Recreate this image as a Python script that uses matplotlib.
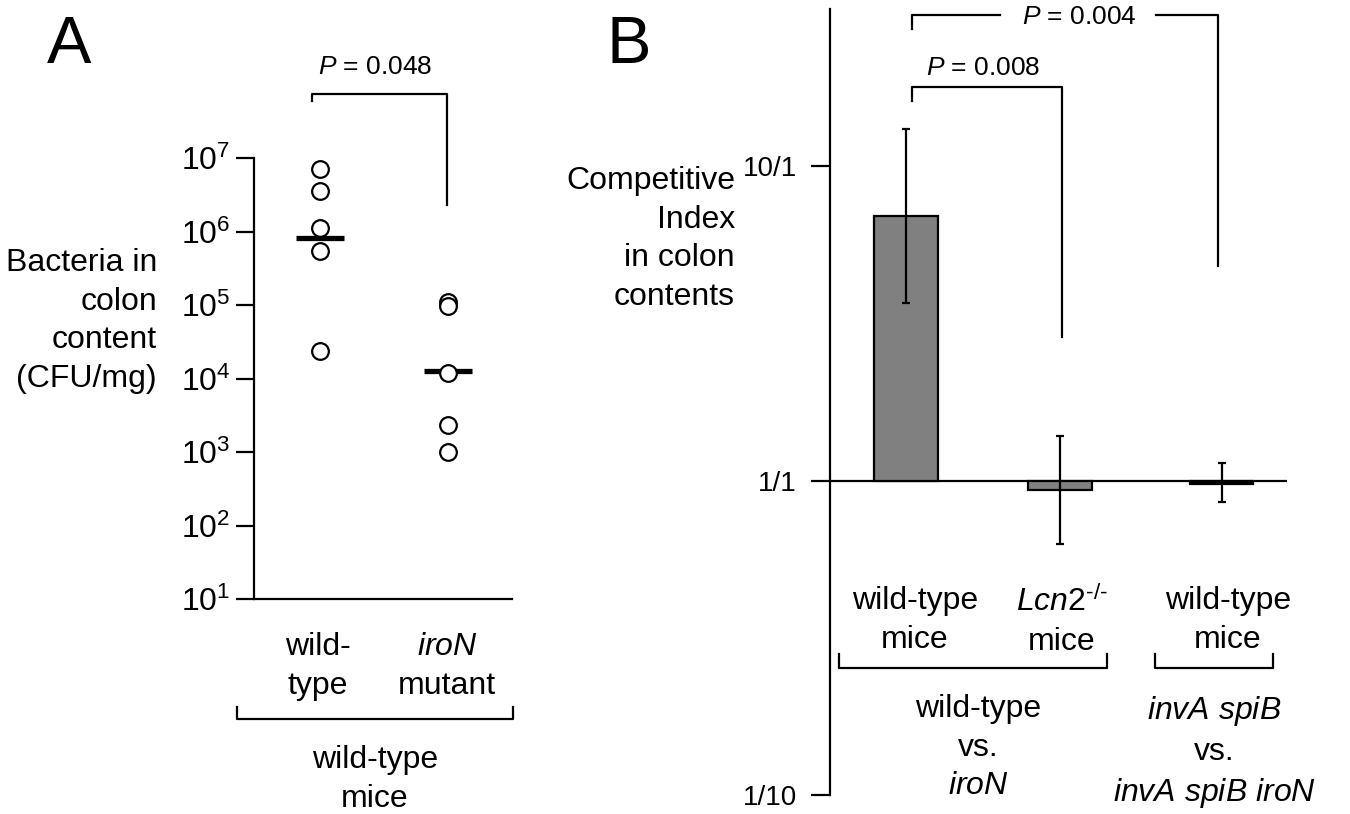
"""
    Colon colonisation (A) and competitive index (B)
    of wild-type vs iroN Salmonella.
"""
import numpy as np
import matplotlib.pyplot as plt
from matplotlib.lines import Line2D

plt.rcParams['font.family'] = 'Liberation Sans'
plt.rcParams['mathtext.fontset'] = 'custom'
plt.rcParams['mathtext.rm'] = 'Liberation Sans'
plt.rcParams['mathtext.it'] = 'Liberation Sans:italic'
plt.rcParams['mathtext.bf'] = 'Liberation Sans:bold'

# ---- panel A data (CFU/mg)
wt_cfu = [7.1e6, 3.6e6, 1.1e6, 5.5e5, 2.4e4]
iron_cfu = [1.1e5, 9.7e4, 1.2e4, 2.3e3, 1.0e3]
median_cfu = [8.1e5, 1.25e4]
groups_a = ['wild-\ntype', '$\\mathit{iroN}$\nmutant']
yticks_a = [1e1, 1e2, 1e3, 1e4, 1e5, 1e6, 1e7]
yticklabels_a = ['$10^{%d}$' % i for i in range(1, 8)]

# ---- panel B data (competitive index)
ci_mean = [6.95, 0.934, 0.975]
ci_upper = [13.1, 1.39, 1.14]
ci_lower = [3.67, 0.63, 0.853]
groups_b = ['wild-type\nmice', '$\\mathit{Lcn2}^{\\text{-/-}}$\nmice',
            'wild-type\nmice']
yticks_b = [0.1, 1, 10]
yticklabels_b = ['1/10', '1/1', '10/1']

W, H = 1350, 814
LW = 1.6
FS = 23
LS = 1.37


def fx(x):
    return x / W


def fy(y):
    return 1 - y / H


def fline(xs, ys):
    # helper: line in pixel coords of the figure
    fig.add_artist(Line2D([fx(x) for x in xs], [fy(y) for y in ys],
                          transform=fig.transFigure, color='k', lw=LW))


fig = plt.figure(figsize=(W / 100, H / 100), dpi=100)

# ================= panel A
axA = fig.add_axes([fx(254), fy(599), (512 - 254) / W, (599 - 158) / H])
xa = [0, 1]
axA.hlines(median_cfu, [x - 0.19 for x in xa], [x + 0.19 for x in xa],
           color='k', lw=3.8, zorder=2)
for x, vals in zip(xa, [wt_cfu, iron_cfu]):
    axA.plot([x] * len(vals), vals, 'o', ms=12, mfc='white', mec='k',
             mew=LW, zorder=3, clip_on=False)
axA.set_yscale('log')
axA.set_ylim(1e1, 1e7)
axA.set_xlim(-0.516, 1.5)
axA.set_yticks(yticks_a)
axA.set_yticklabels(yticklabels_a)
axA.yaxis.set_minor_locator(plt.NullLocator())
axA.set_xticks([])
axA.tick_params(axis='y', length=13, width=LW, labelsize=23, pad=4)
for s in ['top', 'right']:
    axA.spines[s].set_visible(False)
for s in ['left', 'bottom']:
    axA.spines[s].set_linewidth(LW)

fig.text(fx(47), fy(46), 'A', fontsize=48, ha='left', va='center')
fig.text(fx(157), fy(248), 'Bacteria in\ncolon\ncontent\n(CFU/mg)',
         ha='right', va='top', fontsize=FS, linespacing=LS)

# category labels under A
for x, lab in zip([318, 447], groups_a):
    fig.text(fx(x), fy(632), lab, ha='center', va='top', fontsize=FS,
             linespacing=LS)
fline([237, 237, 513, 513], [707, 719, 719, 707])
fig.text(fx(375), fy(745), 'wild-type\nmice', ha='center', va='top',
         fontsize=FS, linespacing=LS)

# significance bracket A
fline([312, 312, 447, 447], [101, 94, 94, 205])
fig.text(fx(375), fy(67), '$\\mathit{P}$ = 0.048', ha='center',
         va='center', fontsize=19)

# ================= panel B
axB = fig.add_axes([fx(830), fy(795), (1287 - 830) / W, (795 - 9) / H])
xb = [0.0, 1.0, 2.05]
axB.axhline(1, color='k', lw=LW, zorder=1)
bar_fc = ['#808080', '#808080', 'k']
axB.bar(xb, [m - 1 for m in ci_mean], bottom=1, width=0.41,
        color=bar_fc, edgecolor='k', linewidth=LW, zorder=2)
err = [np.array(ci_mean) - np.array(ci_lower),
       np.array(ci_upper) - np.array(ci_mean)]
axB.errorbar(xb, ci_mean, yerr=err, fmt='none', ecolor='k',
             elinewidth=LW, capsize=3.2, capthick=LW, zorder=3)
axB.set_yscale('log')
axB.set_ylim(0.1, 10 ** 1.5)
axB.set_xlim(-0.494, 2.474)
axB.set_yticks(yticks_b)
axB.set_yticklabels(yticklabels_b)
axB.yaxis.set_minor_locator(plt.NullLocator())
axB.set_xticks([])
axB.tick_params(axis='y', length=14, width=LW, labelsize=20, pad=10)
for s in ['top', 'right', 'bottom']:
    axB.spines[s].set_visible(False)
axB.spines['left'].set_linewidth(LW)

fig.text(fx(607), fy(46), 'B', fontsize=48, ha='left', va='center')
fig.text(fx(735), fy(166), 'Competitive\nIndex\nin colon\ncontents',
         ha='right', va='top', fontsize=FS, linespacing=LS)

for x, lab in zip([915, 1062, 1228], groups_b):
    fig.text(fx(x), fy(586), lab, ha='center', va='top', fontsize=FS,
             linespacing=LS)
fline([839, 839, 1107, 1107], [654, 668, 668, 654])
fline([1155, 1155, 1273, 1273], [654, 668, 668, 654])
fig.text(fx(978), fy(694), 'wild-type\nvs.\n$\\mathit{iroN}$', ha='center',
         va='top', fontsize=FS, linespacing=LS)
fig.text(fx(1214), fy(694),
         '$\\mathit{invA\\ spiB}$\nvs.\n$\\mathit{invA\\ spiB\\ iroN}$',
         ha='center', va='top', fontsize=FS, linespacing=LS)

# significance brackets B
fline([912, 912, 1062, 1062], [101, 87, 87, 337])
fig.text(fx(983), fy(68), '$\\mathit{P}$ = 0.008', ha='center',
         va='center', fontsize=19)
fline([912, 912, 1000], [29, 15, 15])
fline([1156, 1218, 1218], [15, 15, 266])
fig.text(fx(1079), fy(17), '$\\mathit{P}$ = 0.004', ha='center',
         va='center', fontsize=19)

plt.savefig('out.png', dpi=100)
